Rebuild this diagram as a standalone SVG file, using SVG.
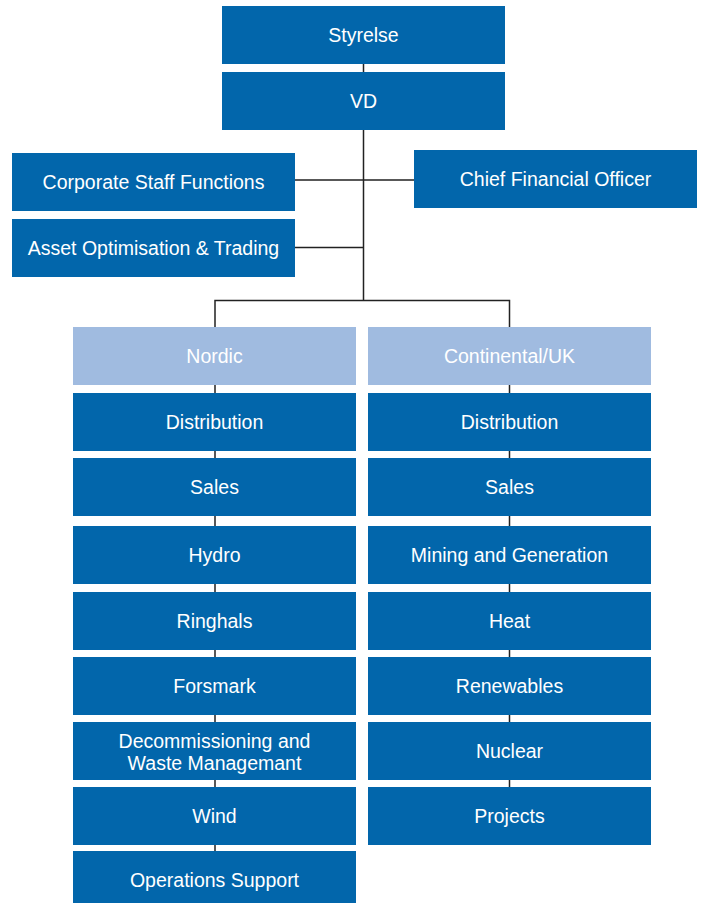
<svg xmlns="http://www.w3.org/2000/svg" width="701" height="903" viewBox="0 0 701 903">
<style>
.b{fill:#0266AB}
.l{fill:#A0BBE0}
.t{fill:#fff;font-family:"Liberation Sans",Arial,sans-serif;font-size:19.5px;text-anchor:middle}
.c{stroke:#222;stroke-width:1.5;fill:none}
</style>
<rect width="701" height="903" fill="#fff"/>
<g id="connectors">
<path class="c" d="M363.5 63V300M295 180H414M295 247.5H363.5M215 327V300.5H509.5V327"/>
<path class="c" d="M215 384V851M509.5 384V787"/>
</g>
<g id="n-styrelse"><rect class="b" x="222" y="6" width="283" height="58"/><text class="t" x="363.5" y="42">Styrelse</text></g>
<g id="n-vd"><rect class="b" x="222" y="72" width="283" height="58"/><text class="t" x="363.5" y="108">VD</text></g>
<g id="n-corp"><rect class="b" x="12" y="153" width="283" height="58"/><text class="t" x="153.5" y="189">Corporate Staff Functions</text></g>
<g id="n-cfo"><rect class="b" x="414" y="150" width="283" height="58"/><text class="t" x="555.5" y="186">Chief Financial Officer</text></g>
<g id="n-asset"><rect class="b" x="12" y="219" width="283" height="58"/><text class="t" x="153.5" y="255">Asset Optimisation &amp; Trading</text></g>
<g id="n-nordic"><rect class="l" x="73" y="327" width="283" height="58"/><text class="t" x="214.5" y="363">Nordic</text></g>
<g id="n-cont"><rect class="l" x="368" y="327" width="283" height="58"/><text class="t" x="509.5" y="363">Continental/UK</text></g>
<g id="n-n-dist"><rect class="b" x="73" y="393" width="283" height="58"/><text class="t" x="214.5" y="429">Distribution</text></g>
<g id="n-n-sales"><rect class="b" x="73" y="458" width="283" height="58"/><text class="t" x="214.5" y="494">Sales</text></g>
<g id="n-n-hydro"><rect class="b" x="73" y="526" width="283" height="58"/><text class="t" x="214.5" y="562">Hydro</text></g>
<g id="n-n-ringhals"><rect class="b" x="73" y="592" width="283" height="58"/><text class="t" x="214.5" y="628">Ringhals</text></g>
<g id="n-n-forsmark"><rect class="b" x="73" y="657" width="283" height="58"/><text class="t" x="214.5" y="693">Forsmark</text></g>
<g id="n-n-decomm"><rect class="b" x="73" y="722" width="283" height="58"/><text class="t" x="214.5" y="748">Decommissioning and</text><text class="t" x="214.5" y="770">Waste Managemant</text></g>
<g id="n-n-wind"><rect class="b" x="73" y="787" width="283" height="58"/><text class="t" x="214.5" y="823">Wind</text></g>
<g id="n-n-ops"><rect class="b" x="73" y="851" width="283" height="52"/><text class="t" x="214.5" y="887">Operations Support</text></g>
<g id="n-c-dist"><rect class="b" x="368" y="393" width="283" height="58"/><text class="t" x="509.5" y="429">Distribution</text></g>
<g id="n-c-sales"><rect class="b" x="368" y="458" width="283" height="58"/><text class="t" x="509.5" y="494">Sales</text></g>
<g id="n-c-mining"><rect class="b" x="368" y="526" width="283" height="58"/><text class="t" x="509.5" y="562">Mining and Generation</text></g>
<g id="n-c-heat"><rect class="b" x="368" y="592" width="283" height="58"/><text class="t" x="509.5" y="628">Heat</text></g>
<g id="n-c-renew"><rect class="b" x="368" y="657" width="283" height="58"/><text class="t" x="509.5" y="693">Renewables</text></g>
<g id="n-c-nuclear"><rect class="b" x="368" y="722" width="283" height="58"/><text class="t" x="509.5" y="758">Nuclear</text></g>
<g id="n-c-projects"><rect class="b" x="368" y="787" width="283" height="58"/><text class="t" x="509.5" y="823">Projects</text></g>
</svg>
